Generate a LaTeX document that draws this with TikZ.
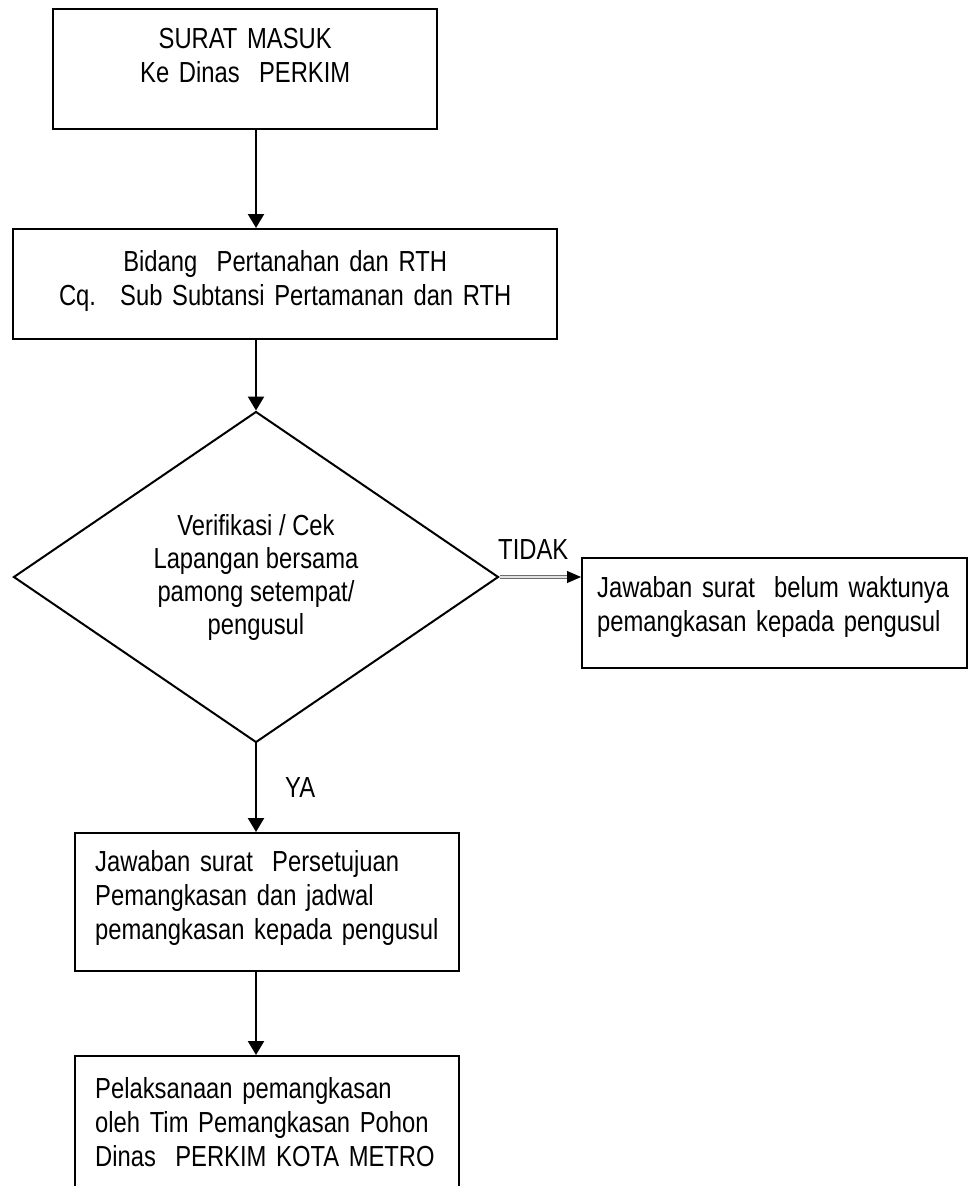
\documentclass[tikz,border=0pt]{standalone}
\usepackage{fontspec}
\setmainfont{Liberation Sans}[FakeStretch=0.82]
\usepackage{tikz}
\usetikzlibrary{arrows.meta,positioning,shapes.geometric}
\definecolor{garis}{HTML}{000000}
\definecolor{garisab}{HTML}{6E6E6E}
\tikzset{
  >={Triangle[length=14pt,width=16pt]},
  % kotak dan ketupat
  kotak/.style={rectangle,draw=garis,line width=2.4pt,inner ysep=0pt,
                font=\fontsize{29}{34}\selectfont},
  kotakc/.style={kotak,align=center,inner xsep=0pt},
  kotakl/.style={kotak,align=left,inner xsep=20pt},
  ketupat/.style={diamond,draw=garis,line width=2pt,inner sep=0pt,
                  align=center,font=\fontsize{29}{33}\selectfont},
  % panah
  panah/.style={->,draw=garis,line width=2.4pt},
  panahab/.style={-{Triangle[length=14pt,width=12pt,color=garis]},draw=garisab,
                  double=white!80!garisab,double distance=1.2pt,line width=1pt},
  ket/.style={inner sep=0pt,font=\fontsize{29}{34}\selectfont},
}
\begin{document}
\begin{tikzpicture}[x=1pt,y=-1pt]
  \useasboundingbox (0,0) rectangle (969,1186);
  \clip (0,0) rectangle (969,1186);
  \node[kotakc,anchor=north west,text width=384pt,text height=39pt,text depth=81pt]
    (masuk) at (52,8) {SURAT MASUK\\Ke Dinas~ PERKIM};
  \node[kotakc,anchor=north west,text width=544pt,text height=42pt,text depth=68pt]
    (bidang) at (12,228) {Bidang~ Pertanahan dan RTH\\Cq.~ Sub Subtansi Pertamanan dan RTH};
  \node[ketupat,minimum width=485pt,minimum height=329pt] (cek) at (256,577)
    {Verifikasi / Cek\\Lapangan bersama\\pamong setempat/\\pengusul};
  \node[kotakl,anchor=north west,inner xsep=15pt,text width=355pt,text height=39pt,text depth=71pt]
    (belum) at (581,557) {Jawaban surat~ belum waktunya\\pemangkasan kepada pengusul};
  \node[kotakl,anchor=north west,text width=344pt,text height=38pt,text depth=100pt]
    (setuju) at (74,832) {Jawaban surat~ Persetujuan\\Pemangkasan dan jadwal\\pemangkasan kepada pengusul};
  \node[kotakl,anchor=north west,text width=344pt,text height=42pt,text depth=110pt]
    (laksana) at (74,1055) {Pelaksanaan pemangkasan\\oleh Tim Pemangkasan Pohon\\Dinas~ PERKIM KOTA METRO};
  \draw[panah] (masuk.south -| cek.north) -- (bidang.north -| cek.north);
  \draw[panah] (bidang.south -| cek.north) -- (cek.north);
  \draw[panahab] (cek.east) -- node[ket,above=17pt,xshift=-7pt] (tidak) {TIDAK}
    (cek.east -| belum.west);
  \draw[panah] (cek.south) -- node[ket,right=28pt] (ya) {YA} (setuju.north -| cek.south);
  \draw[panah] (setuju.south -| cek.north) -- (laksana.north -| cek.north);
\end{tikzpicture}
\end{document}
